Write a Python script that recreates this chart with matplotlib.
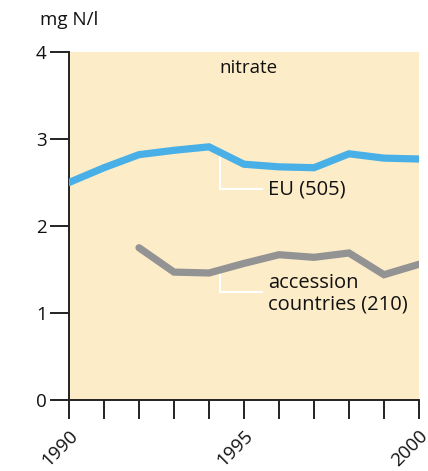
import matplotlib.pyplot as plt
from matplotlib.ticker import MultipleLocator

years_eu = [1990, 1991, 1992, 1993, 1994, 1995, 1996, 1997, 1998, 1999, 2000]
nitrate_eu = [2.50, 2.67, 2.82, 2.87, 2.91, 2.71, 2.68, 2.67, 2.83, 2.78, 2.77]

years_acc = [1992, 1993, 1994, 1995, 1996, 1997, 1998, 1999, 2000]
nitrate_acc = [1.75, 1.47, 1.46, 1.57, 1.67, 1.64, 1.69, 1.44, 1.56]

plt.rcParams['font.family'] = ['Open Sans', 'DejaVu Sans']
ink = '#111111'

fig = plt.figure(figsize=(4.28, 4.71), dpi=100)
ax = fig.add_axes([69 / 428, 71 / 471, 350 / 428, 348 / 471])
ax.set_facecolor('#fcecc8')

ax.plot(years_eu, nitrate_eu, color='#48b0e6', lw=5.2, solid_capstyle='round',
        solid_joinstyle='miter', zorder=3)
ax.plot(years_acc, nitrate_acc, color='#939393', lw=5.2, solid_capstyle='round',
        solid_joinstyle='miter', zorder=3)

# white leader lines for the series labels
ax.plot([1994.3, 1994.3, 1995.5], [2.83, 2.42, 2.42], color='white', lw=1.5, zorder=2)
ax.plot([1994.3, 1994.3, 1995.5], [1.48, 1.24, 1.24], color='white', lw=1.5, zorder=2)

ax.text(1995.7, 2.42, 'EU (505)', fontsize=14.5, va='center', ha='left', color=ink)
ax.text(1995.7, 1.22, 'accession\ncountries (210)', fontsize=14.5, va='center',
        ha='left', color=ink, linespacing=1.15)
ax.text(1994.3, 3.82, 'nitrate', fontsize=13.5, va='center', ha='left', color=ink)

ax.set_xlim(1990, 2000)
ax.set_ylim(0, 4)
ax.set_yticks([0, 1, 2, 3, 4])
ax.set_xticks([1990, 1995, 2000])
ax.xaxis.set_minor_locator(MultipleLocator(1))

for side in ['top', 'right']:
    ax.spines[side].set_visible(False)
for side in ['left', 'bottom']:
    ax.spines[side].set_linewidth(1.4)
    ax.spines[side].set_color('#222222')

ax.tick_params(axis='both', which='both', direction='out', length=14, width=1.4,
               color='#222222', labelsize=13.5, labelcolor=ink)
ax.tick_params(axis='x', which='major', pad=5)
ax.tick_params(axis='y', which='major', pad=2)
for lab in ax.get_xticklabels():
    lab.set_rotation(45)
    lab.set_ha('right')
    lab.set_va('top')
    lab.set_rotation_mode('anchor')

fig.text(40 / 428, 1 - 20 / 471, 'mg N/l', fontsize=13.5, va='center', ha='left',
         color=ink)

fig.savefig('out.png', dpi=100)
